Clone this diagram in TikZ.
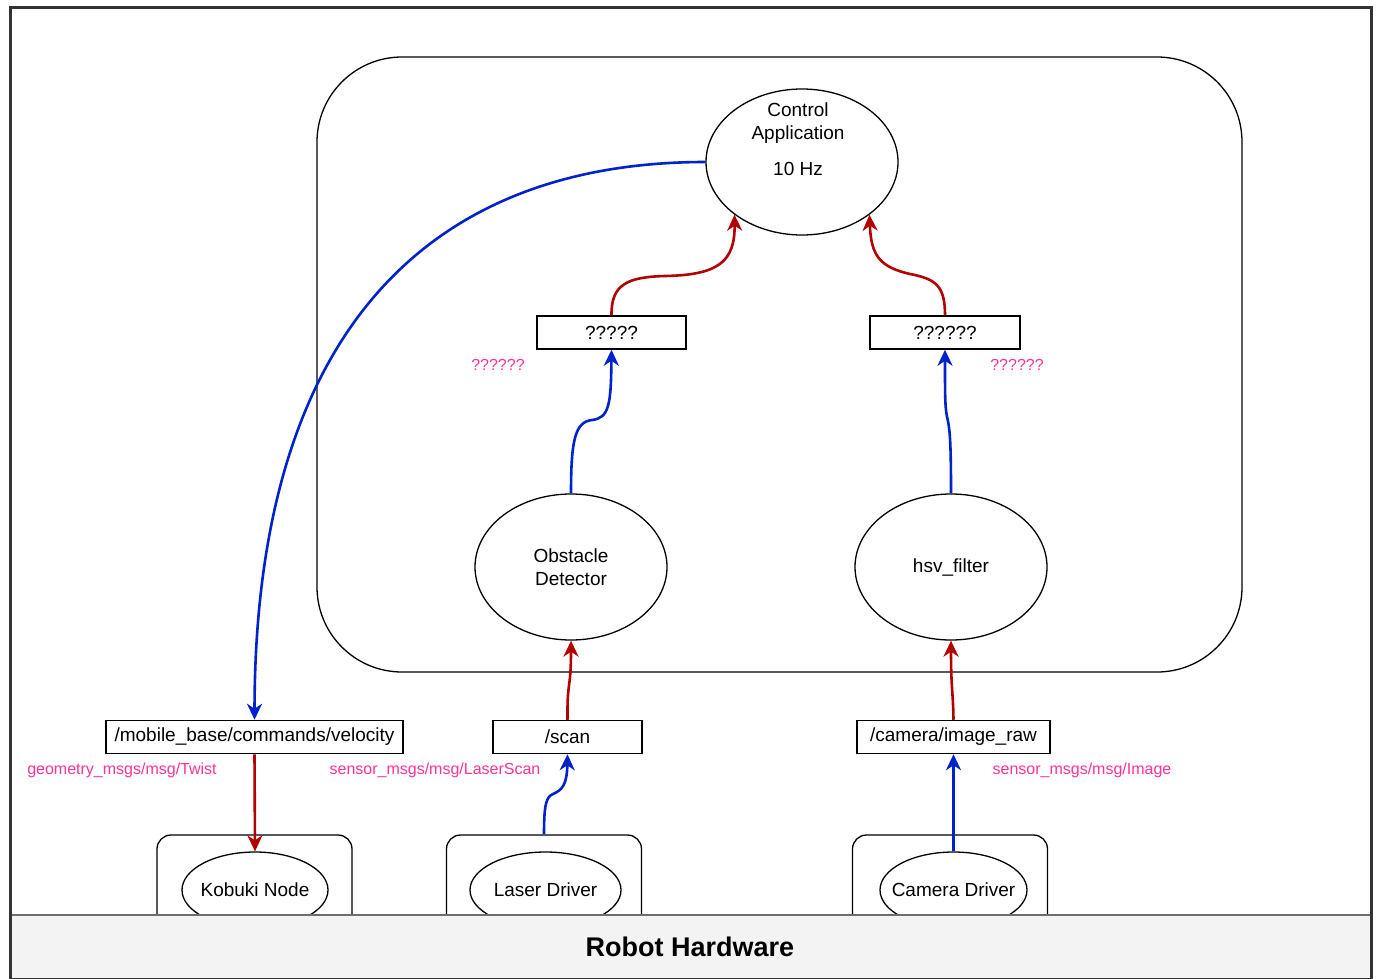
\documentclass[tikz,border=0pt]{standalone}
\usepackage{fontspec}
\setmainfont{Liberation Sans}
\usetikzlibrary{shapes.geometric,arrows.meta}
\definecolor{edgeblue}{HTML}{0022CC}
\definecolor{edgered}{HTML}{B30000}
\definecolor{msgpink}{HTML}{FF3399}
\definecolor{framegray}{HTML}{333333}
\definecolor{bargray}{HTML}{6E6E6E}
\definecolor{barfill}{HTML}{F3F3F3}
\newcommand\mainfs{\fontsize{19}{23}\selectfont}
\newcommand\pinkfs{\fontsize{16}{19}\selectfont}
\newcommand\hwfs{\fontsize{27}{32}\selectfont\bfseries}
\tikzset{
  ell/.style={draw=black, line width=1.3pt, ellipse, inner sep=0pt, fill=white},
  txt/.style={font=\mainfs, align=center, inner sep=0pt},
  topic/.style={draw=black, line width=1.5pt, rectangle, inner sep=0pt, minimum height=33pt, fill=white, font=\mainfs},
  lbl/.style={text=msgpink, font=\pinkfs, inner sep=0pt},
  hwbox/.style={draw=black, line width=1.3pt, rounded corners=14pt, minimum width=195pt, minimum height=100pt, inner sep=0pt, fill=white},
  tipstyle/.style={-{Stealth[length=16pt,width=15pt,inset=5pt]}},
  blueedge/.style={draw=edgeblue, line width=2.6pt, tipstyle},
  rededge/.style={draw=edgered, line width=2.6pt, tipstyle},
}
\begin{document}
\begin{tikzpicture}[x=1pt,y=-1pt]
\useasboundingbox (0,0) rectangle (1378,979);
\fill[white] (0,0) rectangle (1378,979);

% group container
\node[draw=black, line width=1.3pt, rounded corners=85pt, minimum width=925pt, minimum height=615pt, inner sep=0pt] (grp) at (779.5,364.5) {};

% main nodes
\node[ell, minimum width=192pt, minimum height=146pt] (ctrl) at (802,162) {};
\node[txt] (ctrltxt) at (798,139) {Control\\Application\\[13pt]10 Hz};

\node[topic, minimum width=149pt] (q1) at (611.5,332.5) {?????};
\node[topic, minimum width=150pt] (q2) at (945,332.5) {??????};
\node[lbl] (q1lbl) at (498,365) {??????};
\node[lbl] (q2lbl) at (1017,365) {??????};

\node[ell, minimum width=192pt, minimum height=146pt] (obs) at (571,567) {};
\node[txt] (obstxt) at (571,567) {Obstacle\\Detector};
\node[ell, minimum width=192pt, minimum height=146pt] (hsv) at (951,567) {};
\node[txt] (hsvtxt) at (951,567) {hsv\_filter};

\node[topic, minimum width=297pt] (mb) at (254.5,737) {/mobile\_base/commands/velocity};
\node[topic, minimum width=149pt] (scan) at (567.5,737) {/scan};
\node[topic, minimum width=193pt] (cam) at (953.5,737) {/camera/image\_raw};
\node[lbl] (mblbl) at (122,770) {geometry\_msgs/msg/Twist};
\node[lbl] (scanlbl) at (435,770) {sensor\_msgs/msg/LaserScan};
\node[lbl] (camlbl) at (1082,770) {sensor\_msgs/msg/Image};

% hardware drivers
\node[hwbox] (kbox) at (254.5,885) {};
\node[hwbox] (lbox) at (544,885) {};
\node[hwbox] (cbox) at (950,885) {};
\node[ell, minimum width=146pt, minimum height=76pt] (kob) at (255,890) {};
\node[txt] (kobtxt) at (255,890) {Kobuki Node};
\node[ell, minimum width=151pt, minimum height=76pt] (laser) at (545.5,890) {};
\node[txt] (lasertxt) at (545.5,890) {Laser Driver};
\node[ell, minimum width=147pt, minimum height=76pt] (camd) at (953.5,890) {};
\node[txt] (camdtxt) at (953.5,890) {Camera Driver};

% robot hardware bar
\node[draw=bargray, fill=barfill, line width=2pt, minimum width=1361pt, minimum height=64pt, inner sep=0pt] (hw) at (690.5,947) {};
\node[font=\hwfs, inner sep=0pt] (hwtxt) at (690,947) {Robot Hardware};

% outer frame
\node[draw=framegray, line width=3pt, minimum width=1361pt, minimum height=971pt, inner sep=0pt] (frame) at (690.5,493.5) {};

% connectors
\draw[blueedge] (ctrl.west) .. controls (430,162) and (255,330) .. (mb.north);
\draw[rededge] (q1.north) .. controls (611,284) and (628,277) .. (665,276) .. controls (718,275) and (735,262) .. (ctrl.218.8);
\draw[rededge] (q2.north) .. controls (945,286) and (936,279) .. (910,274) .. controls (880,267) and (871,256) .. (ctrl.322.6);
\draw[blueedge] (obs.north) .. controls (571,440) and (575,422) .. (592,420) .. controls (609,418) and (611,405) .. (q1.south);
\draw[blueedge] (hsv.north) .. controls (951,445) and (950,432) .. (948,421) .. controls (945,410) and (945,400) .. (q2.south);
\draw[rededge] (scan.north) .. controls (567,680) and (571,690) .. (obs.south);
\draw[rededge] (cam.north) .. controls (953,690) and (951,690) .. (hsv.south);
\draw[rededge] (mb.south) -- (kob.north);
\draw[blueedge] (lbox.north) .. controls (544,805) and (546,797) .. (553,794) .. controls (562,790) and (567,785) .. (scan.south);
\draw[blueedge] (camd.north) -- (cam.south);
\end{tikzpicture}
\end{document}
